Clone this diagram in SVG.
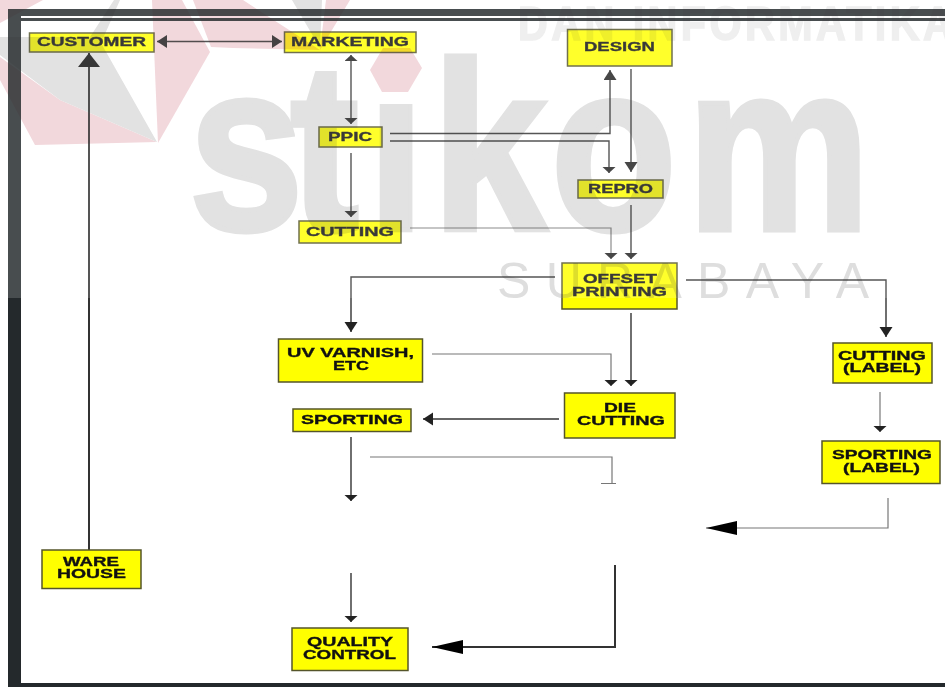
<svg xmlns="http://www.w3.org/2000/svg" width="945" height="687" viewBox="0 0 945 687">
<style>
.c{fill:none;stroke:#333;stroke-width:1.4}
.t{stroke-width:2}
.l{stroke:#777;stroke-width:1.2}
.n rect{fill:#ffff00;stroke:#55552a;stroke-width:1.5}
.n text{font-family:"Liberation Sans",Arial,sans-serif;font-weight:700;font-size:13.5px;fill:#111;stroke:#111;stroke-width:.35}
.w{font-family:"Liberation Sans",Arial,sans-serif}
</style>
<defs>
<marker id="s" markerUnits="userSpaceOnUse" markerWidth="8" markerHeight="14" refX="6" refY="6.500" orient="auto-start-reverse"><path d="M0 0L6 6.500L0 13z" fill="#222"/></marker>
<marker id="m" markerUnits="userSpaceOnUse" markerWidth="12" markerHeight="14" refX="10" refY="6.500" orient="auto-start-reverse"><path d="M0 0L10 6.500L0 13z" fill="#222"/></marker>
<marker id="b" markerUnits="userSpaceOnUse" markerWidth="16" markerHeight="24" refX="14" refY="11" orient="auto"><path d="M0 0L14 11L0 22z" fill="#111"/></marker>
<marker id="x" markerUnits="userSpaceOnUse" markerWidth="34" markerHeight="16" refX="31" refY="7" orient="auto"><path d="M0 0L31 7L0 14z" fill="#000"/></marker>
<clipPath id="dot"><path d="M0 0H362V300H0zM362 104H430V300H362zM430 0H945V300H430z"/></clipPath>
</defs>
<rect width="945" height="687" fill="#fff"/>
<g id="frame">
<rect x="8" y="9" width="937" height="12" fill="#24292c"/>
<rect x="18" y="16" width="927" height="2" fill="#fff"/>
<rect x="8" y="9" width="13" height="678" fill="#24292c"/>
<rect x="8" y="683" width="937" height="4" fill="#24292c"/>
</g>
<g id="connectors">
<path class="c" d="M157 41.500H282" marker-start="url(#m)" marker-end="url(#m)"/>
<path class="c" d="M351 55V124" marker-start="url(#s)" marker-end="url(#s)"/>
<path class="c" d="M351 153V217" marker-end="url(#s)"/>
<path class="c t" d="M89 550V53" marker-end="url(#b)"/>
<path class="c" d="M390 133.500H610V70" marker-end="url(#m)"/>
<path class="c" d="M390 141H609V173" marker-end="url(#s)"/>
<path class="c" d="M631 69V172" marker-end="url(#m)"/>
<path class="c l" d="M410 228H611V259" marker-end="url(#s)"/>
<path class="c" d="M631 205V259" marker-end="url(#s)"/>
<path class="c" d="M555 277H351V332" marker-end="url(#m)"/>
<path class="c" d="M686 280H886V337" marker-end="url(#m)"/>
<path class="c" d="M631 313V386" marker-end="url(#s)"/>
<path class="c l" d="M432 354H611V386" marker-end="url(#s)"/>
<path class="c" d="M559 419H423" marker-end="url(#m)"/>
<path class="c" d="M351 437V501" marker-end="url(#s)"/>
<path class="c l" d="M370 457H612V483M601 483.500H616"/>
<path class="c l" d="M880 392V432" marker-end="url(#s)"/>
<path class="c l" d="M888 498V528H706" marker-end="url(#x)"/>
<path class="c" d="M351 573V622" marker-end="url(#s)"/>
<path class="c t" d="M615 565V647H432" marker-end="url(#x)"/>
</g>
<g id="customer" class="n"><rect x="29.500" y="33" width="124.500" height="19"/><text x="37" y="45.500" textLength="109" lengthAdjust="spacingAndGlyphs">CUSTOMER</text></g>
<g id="marketing" class="n"><rect x="284.500" y="32" width="131.500" height="20.500"/><text x="291" y="45.500" textLength="118" lengthAdjust="spacingAndGlyphs">MARKETING</text></g>
<g id="ppic" class="n"><rect x="319" y="127" width="63" height="20"/><text x="328" y="140.500" textLength="44" lengthAdjust="spacingAndGlyphs">PPIC</text></g>
<g id="cutting" class="n"><rect x="299" y="221" width="102" height="22"/><text x="306" y="235.500" textLength="88" lengthAdjust="spacingAndGlyphs">CUTTING</text></g>
<g id="design" class="n"><rect x="567.500" y="29.500" width="104.500" height="36.500"/><text x="584" y="50.500" textLength="71" lengthAdjust="spacingAndGlyphs">DESIGN</text></g>
<g id="repro" class="n"><rect x="578" y="180" width="85" height="18"/><text x="588" y="192.500" textLength="65" lengthAdjust="spacingAndGlyphs">REPRO</text></g>
<g id="offset-printing" class="n"><rect x="562" y="263" width="115" height="46"/><text x="583" y="283" textLength="74" lengthAdjust="spacingAndGlyphs">OFFSET</text><text x="572" y="295.500" textLength="95" lengthAdjust="spacingAndGlyphs">PRINTING</text></g>
<g id="uv-varnish" class="n"><rect x="278.500" y="339" width="144" height="43"/><text x="287" y="357" textLength="127" lengthAdjust="spacingAndGlyphs">UV VARNISH,</text><text x="333" y="369.500" textLength="36" lengthAdjust="spacingAndGlyphs">ETC</text></g>
<g id="die-cutting" class="n"><rect x="564.500" y="393" width="110.500" height="45"/><text x="604" y="412" textLength="32" lengthAdjust="spacingAndGlyphs">DIE</text><text x="577" y="425" textLength="88" lengthAdjust="spacingAndGlyphs">CUTTING</text></g>
<g id="sporting" class="n"><rect x="293" y="409" width="118" height="22.500"/><text x="301" y="424" textLength="102" lengthAdjust="spacingAndGlyphs">SPORTING</text></g>
<g id="cutting-label" class="n"><rect x="833" y="343" width="99" height="40"/><text x="838" y="359.500" textLength="88" lengthAdjust="spacingAndGlyphs">CUTTING</text><text x="843" y="372" textLength="78" lengthAdjust="spacingAndGlyphs">(LABEL)</text></g>
<g id="sporting-label" class="n"><rect x="822" y="441" width="118" height="42.500"/><text x="832" y="459" textLength="100" lengthAdjust="spacingAndGlyphs">SPORTING</text><text x="843" y="472" textLength="77" lengthAdjust="spacingAndGlyphs">(LABEL)</text></g>
<g id="quality-control" class="n"><rect x="292" y="628" width="116" height="42.500"/><text x="307" y="646" textLength="86" lengthAdjust="spacingAndGlyphs">QUALITY</text><text x="303" y="659" textLength="93" lengthAdjust="spacingAndGlyphs">CONTROL</text></g>
<g id="warehouse" class="n"><rect x="42" y="550" width="99" height="38.500"/><text x="63" y="565.500" textLength="56" lengthAdjust="spacingAndGlyphs">WARE</text><text x="57" y="578" textLength="69" lengthAdjust="spacingAndGlyphs">HOUSE</text></g>
<g id="watermark" style="mix-blend-mode:multiply">
<g fill="#f0d0d5">
<path d="M0 0H43L0 23z"/>
<path d="M0 57L60 100L157 142L35 145L0 80z"/>
<path d="M152 0H182L210 52L158 143z"/>
<path d="M193 0H243L320 50L233 48L211 47z"/>
<path d="M326 0H350L320 50z"/>
<path d="M370 70L383 48H410L422 68L408 92H382z"/>
</g>
<g fill="#dcdcdc">
<path d="M0 37H90L114 0H120L101 43L157 142L60 100L0 55z"/>
<path d="M292 0H322L320 48z"/>
<g clip-path="url(#dot)"><text class="w" transform="translate(193,229.500) scale(.86,1)" x="-5 113 203 278 416 574" font-size="240" font-weight="700" stroke="#dcdcdc" stroke-width="5" fill="#dcdcdc">stikom</text></g>
<text class="w" x="497" y="298" font-size="50" fill="#d8d8d8" textLength="372">SURABAYA</text>
</g>
<text class="w" transform="translate(518,40) scale(.86,1)" font-size="48" font-weight="700" letter-spacing="4" stroke="#ececec" stroke-width="1.5" fill="#ececec">DAN INFORMATIKA</text>
</g>
<rect id="fade" width="945" height="298" fill="#fff" opacity=".17"/>
</svg>
